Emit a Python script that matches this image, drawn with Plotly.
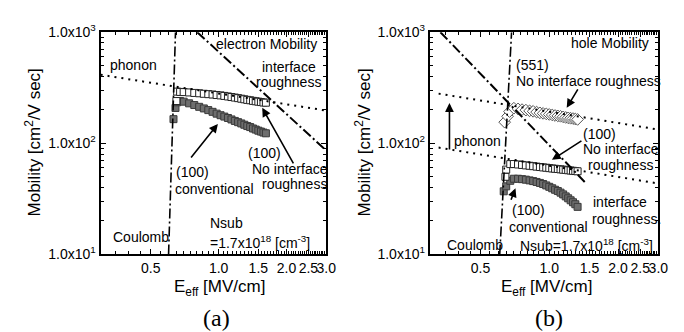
import plotly.graph_objects as go

W, H = 684, 332

# ---------------- (a) electron mobility ----------------
a_conv_x = [0.631, 0.644, 0.655, 0.675, 0.70, 0.74, 0.78, 0.82, 0.86, 0.90, 0.94, 0.98, 1.02, 1.06,
            1.10, 1.14, 1.18, 1.22, 1.26, 1.30, 1.34, 1.38, 1.42, 1.46, 1.50, 1.54, 1.58, 1.62]
a_conv_y = [165, 208, 234, 240, 237, 229, 221, 213, 206, 199, 192, 185, 179, 174,
            169, 164, 159, 155, 151, 147, 143, 140, 136, 133, 130, 127.5, 125, 123]
a_noir_x = [0.650, 0.655, 0.675, 0.70, 0.74, 0.78, 0.82, 0.86, 0.90, 0.94, 0.98, 1.02, 1.06,
            1.10, 1.14, 1.18, 1.22, 1.26, 1.30, 1.34, 1.38, 1.42, 1.46, 1.50, 1.54, 1.58, 1.62]
a_noir_y = [240, 292, 290, 289, 287, 284, 282, 279, 277, 275, 272, 270, 267,
            264, 261, 258, 255, 252, 249, 246, 244, 241, 239, 237, 235, 233, 232]
a_phonon_x = [0.3, 3.0]
a_phonon_y = [414, 197]
a_coulomb_x = [0.600, 0.644]
a_coulomb_y = [10, 1000]
a_ir_x = [0.804, 3.0]
a_ir_y = [1000, 86]

# ---------------- (b) hole mobility ----------------
b_551_x = [0.638, 0.657, 0.670, 0.70, 0.73, 0.76, 0.79, 0.82, 0.85, 0.88, 0.91, 0.94, 0.97, 1.00,
           1.03, 1.06, 1.09, 1.12, 1.15, 1.18, 1.21, 1.24, 1.27, 1.30, 1.33]
b_551_y = [155, 175, 193, 207, 204, 201, 199, 196, 194, 191, 188, 186, 184, 182,
           180, 178, 176.5, 175, 173, 171, 169.5, 168, 167, 165.5, 164]
b_noir_x = [0.643, 0.648, 0.675, 0.70, 0.73, 0.76, 0.79, 0.82, 0.85, 0.88, 0.91, 0.94, 0.97, 1.00,
            1.03, 1.06, 1.09, 1.12, 1.15, 1.18, 1.21, 1.24, 1.27, 1.30, 1.33]
b_noir_y = [50, 58, 65, 65.1, 64.5, 63.9, 63.3, 62.8, 62.3, 61.7, 61.2, 60.7, 60.3, 59.8,
            59.4, 59.0, 58.7, 58.3, 57.9, 57.6, 57.2, 56.9, 56.6, 56.3, 56.0]
b_conv_x = [0.632, 0.648, 0.675, 0.70, 0.73, 0.76, 0.79, 0.82, 0.85, 0.88, 0.91, 0.94, 0.97, 1.00,
            1.03, 1.06, 1.09, 1.12, 1.15, 1.18, 1.21, 1.24, 1.27, 1.30, 1.33]
b_conv_y = [37, 41, 46, 48.0, 48.0, 47.6, 47.1, 46.4, 45.7, 44.9, 44.0, 43.0, 41.8, 40.6,
            39.4, 38.2, 37.2, 36.0, 34.7, 33.3, 32.0, 30.7, 29.5, 28.3, 26.8]
b_ph551_x = [0.328, 3.0]
b_ph551_y = [280, 133]
b_ph100_x = [0.328, 3.0]
b_ph100_y = [91.5, 43.5]
b_coulomb_x = [0.607, 0.684]
b_coulomb_y = [10, 1000]
b_ir_x = [0.334, 1.45]
b_ir_y = [1000, 43.5]

# tick labels
x_tickvals = [0.5, 1.0, 1.5, 2.0, 2.5, 3.0]
x_ticktext = ["0.5", "1.0", "1.5", "2.0", "2.5", "3.0"]
y_tickvals = [10, 100, 1000]
y_ticktext = ["1.0x10<sup>1</sup>", "1.0x10<sup>2</sup>", "1.0x10<sup>3</sup>"]

SANS = "Liberation Sans, Arial, sans-serif"
SERIF = "Liberation Serif, Times New Roman, serif"

fig = go.Figure()

FILL = "#6e6e6e"
EDGE = "#3a3a3a"
DOT = "2px,5px"
DASHDOT = "10px,3px,2px,3px"


def sq_filled(x, y, ax):
    return go.Scatter(x=x, y=y, mode="markers", xaxis=ax[0], yaxis=ax[1],
                      marker=dict(symbol="square", size=7, color=FILL,
                                  line=dict(color=EDGE, width=1)),
                      showlegend=False, hoverinfo="skip")


def sq_open(x, y, ax):
    return go.Scatter(x=x, y=y, mode="markers", xaxis=ax[0], yaxis=ax[1],
                      marker=dict(symbol="square", size=7, color="white",
                                  line=dict(color="#222222", width=1)),
                      showlegend=False, hoverinfo="skip")


def line(x, y, ax, dash, width=1.6):
    return go.Scatter(x=x, y=y, mode="lines", xaxis=ax[0], yaxis=ax[1],
                      line=dict(color="black", width=width, dash=dash),
                      showlegend=False, hoverinfo="skip")


A = ("x", "y")
B = ("x2", "y2")

fig.add_trace(sq_filled(a_conv_x, a_conv_y, A))
fig.add_trace(sq_open(a_noir_x, a_noir_y, A))
fig.add_trace(line(a_phonon_x, a_phonon_y, A, DOT, 2))
fig.add_trace(line(a_coulomb_x, a_coulomb_y, A, DASHDOT))
fig.add_trace(line(a_ir_x, a_ir_y, A, DASHDOT, 2))

fig.add_trace(sq_filled(b_conv_x, b_conv_y, B))
fig.add_trace(sq_open(b_noir_x, b_noir_y, B))
fig.add_trace(go.Scatter(x=b_551_x, y=b_551_y, mode="markers", xaxis="x2", yaxis="y2",
                         marker=dict(symbol="diamond", size=9, color="white",
                                     line=dict(color="#555555", width=1)),
                         showlegend=False, hoverinfo="skip"))
fig.add_trace(line(b_ph551_x, b_ph551_y, B, DOT, 2))
fig.add_trace(line(b_ph100_x, b_ph100_y, B, DOT, 2))
fig.add_trace(line(b_coulomb_x, b_coulomb_y, B, DASHDOT))
fig.add_trace(line(b_ir_x, b_ir_y, B, DASHDOT, 2))

x_minor = [round(0.3 + 0.05 * i, 2) for i in range(55)]
x_minor = [v for v in x_minor if v not in x_tickvals]
y_minor = [m * d for d in (10, 100) for m in range(2, 10)]

xax = dict(type="log", range=[-0.5229, 0.4771], tickvals=x_tickvals, ticktext=x_ticktext,
           tickangle=0,
           ticks="inside", ticklen=5, tickwidth=1.2, tickcolor="black",
           showline=True, linewidth=2, linecolor="black", mirror="allticks",
           showgrid=False, zeroline=False,
           tickfont=dict(family=SANS, size=14, color="black"),
           minor=dict(tickvals=x_minor, ticks="inside", ticklen=3, tickcolor="black", tickwidth=1))
yax = dict(type="log", range=[1, 3], tickvals=y_tickvals, ticktext=y_ticktext,
           ticks="inside", ticklen=5, tickwidth=1.2, tickcolor="black",
           showline=True, linewidth=2, linecolor="black", mirror="allticks",
           showgrid=False, zeroline=False,
           tickfont=dict(family=SANS, size=14, color="black"),
           minor=dict(tickvals=y_minor, ticks="inside", ticklen=3, tickcolor="black", tickwidth=1))

ydom = [1 - 250 / H, 1 - 15 / H]
fig.update_layout(
    width=W, height=H, margin=dict(l=0, r=0, t=0, b=0),
    paper_bgcolor="white", plot_bgcolor="white",
    xaxis=dict(xax, domain=[94 / W, 323 / W], anchor="y"),
    yaxis=dict(yax, domain=ydom, anchor="x"),
    xaxis2=dict(xax, domain=[428 / W, 660 / W], anchor="y2"),
    yaxis2=dict(yax, domain=ydom, anchor="x2"),
)


def P(px, py):
    return px / W, 1 - py / H


ann = []


def text(s, px, py, anchor="left", size=14, family=SANS, angle=0):
    x, y = P(px, py)
    ann.append(dict(text=s, x=x, y=y, xref="paper", yref="paper", showarrow=False,
                    xanchor=anchor, yanchor="middle", textangle=angle,
                    font=dict(family=family, size=size, color="black")))


def arrow(tx, ty, hx, hy):
    x, y = P(hx, hy)
    ann.append(dict(text="", x=x, y=y, xref="paper", yref="paper", showarrow=True,
                    ax=tx - hx, ay=ty - hy, arrowhead=2, arrowsize=1.1, arrowwidth=1.6,
                    arrowcolor="black"))


# (a) texts
text("electron Mobility", 316, 28, "right")
text("phonon", 101, 50)
text("interface", 285, 52, "center")
text("roughness", 285, 68, "center")
text("(100)", 242, 143)
text("No interface", 246, 160)
text("roughness", 256, 176)
text("(100)", 168, 163)
text("conventional", 167, 181)
text("Nsub", 203, 217)
text("=1.7x10<sup>18</sup> [cm<sup>-3</sup>]", 203, 237)
text("Coulomb", 105, 232)
arrow(185, 147, 213, 112)
arrow(290, 152, 258, 95)

# (b) texts
text("hole Mobility", 653, 26, "right")
text("(551)", 514, 50)
text("No interface roughness", 513, 67)
text("phonon", 451, 130)
text("(100)", 582, 123)
text("No interface", 581, 139)
text("roughness", 587, 155)
text("interface", 592, 195)
text("roughness.", 591, 213)
text("(100)", 509, 203)
text("conventional", 506, 221)
text("Coulomb", 443, 240)
text("Nsub=1.7x10<sup>18</sup> [cm<sup>-3</sup>]", 518, 240)
arrow(579, 75, 567, 95)
arrow(583, 130, 552, 150)
arrow(510, 193, 515, 180)
arrow(448, 138, 448, 90)

# axis titles and panel labels
text("Mobility [cm<sup>2</sup>/V sec]", 25, 132, "center", size=17, angle=-90)
text("Mobility [cm<sup>2</sup>/V sec]", 360, 132, "center", size=17, angle=-90)
text("E<sub>eff</sub> [MV/cm]", 215, 285, "center", size=17)
text("E<sub>eff</sub> [MV/cm]", 546, 286, "center", size=17)
text("(a)", 212, 317, "center", size=24, family=SERIF)
text("(b)", 549, 317, "center", size=24, family=SERIF)

fig.update_layout(annotations=ann)
fig.write_html("out.html")
